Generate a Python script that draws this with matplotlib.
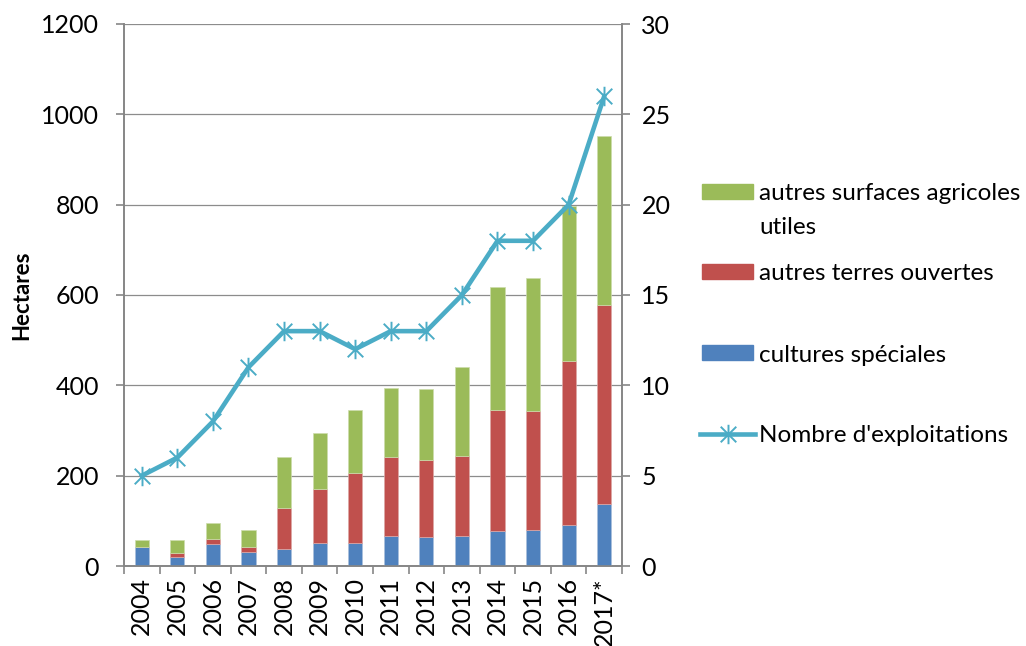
import matplotlib
matplotlib.use("Agg")
import matplotlib.pyplot as plt
import numpy as np
from matplotlib.patches import Patch
from matplotlib.lines import Line2D
from matplotlib.path import Path

plt.rcParams['font.family'] = ['Lato', 'DejaVu Sans']

years = ["2004", "2005", "2006", "2007", "2008", "2009", "2010", "2011",
         "2012", "2013", "2014", "2015", "2016", "2017*"]
cultures_speciales = [41, 19, 48, 31, 37, 51, 52, 66, 64, 67, 78, 79, 90, 137]
autres_terres_ouvertes = [2, 9, 11, 11, 91, 119, 154, 175, 171, 177, 267, 265, 364, 441]
autres_surfaces = [14, 30, 37, 38, 113, 124, 140, 153, 156, 197, 272, 293, 344, 375]
nombre_exploitations = [5, 6, 8, 11, 13, 13, 12, 13, 13, 15, 18, 18, 20, 26]

c_blue = "#4F81BD"
c_red = "#C0504D"
c_green = "#9BBB59"
c_line = "#4BACC6"
c_axis = "#868686"

# asterisk marker: vertical stroke plus an X
star = Path([(0, -1), (0, 1), (-0.8, -0.8), (0.8, 0.8), (-0.8, 0.8), (0.8, -0.8)],
            [Path.MOVETO, Path.LINETO, Path.MOVETO, Path.LINETO, Path.MOVETO, Path.LINETO])

fig = plt.figure(figsize=(10.26, 6.46), dpi=100)
ax = fig.add_axes([124/1026, 1-566/646, (622-124)/1026, (566-24)/646])
ax2 = ax.twinx()

x = np.arange(len(years))
w = 0.40
b1 = np.array(cultures_speciales)
b2 = np.array(autres_terres_ouvertes)
b3 = np.array(autres_surfaces)
ax.bar(x, b1, w, color=c_blue, edgecolor="#a9bfdc", linewidth=0.5, zorder=3)
ax.bar(x, b2, w, bottom=b1, color=c_red, edgecolor="#dda8a6", linewidth=0.5, zorder=3)
ax.bar(x, b3, w, bottom=b1+b2, color=c_green, edgecolor="#cddcac", linewidth=0.5, zorder=3)

ax.set_ylim(0, 1200)
ax.set_yticks(np.arange(0, 1201, 200))
ax.set_xlim(-0.5, len(years)-0.5)
ax.yaxis.grid(True, color="#8c8c8c", linewidth=0.9, zorder=0)
ax.set_axisbelow(True)

tfs = 18
ax.set_xticks(x)
ax.set_xticklabels(years, rotation=90, fontsize=tfs)
ax.set_xticks(np.arange(-0.5, len(years), 1.0), minor=True)
ax.tick_params(axis='x', which='major', length=0, pad=8)
ax.tick_params(axis='x', which='minor', length=6, width=1.2, color=c_axis, direction='out')
ax.tick_params(axis='y', which='major', length=6, width=1.2, color=c_axis, labelsize=tfs, pad=12)

ax2.plot(x, nombre_exploitations, color=c_line, linewidth=3.3, marker=star,
         markersize=14, markeredgewidth=1.4, markeredgecolor=c_line, zorder=5)
ax2.set_ylim(0, 30)
ax2.set_yticks(np.arange(0, 31, 5))
ax2.tick_params(axis='y', which='major', length=6, width=1.2, color=c_axis, labelsize=tfs, pad=8)

for a in (ax, ax2):
    for s in a.spines.values():
        s.set_color(c_axis)
        s.set_linewidth(1.2)
    a.spines['top'].set_visible(False)

ax.set_ylabel("Hectares", fontsize=16, fontweight='bold')
ax.yaxis.set_label_coords(-92/498, 0.5)
ax2.patch.set_visible(False)

fs = 17.5
fpx = fs * 100 / 72.0
common = dict(frameon=False, fontsize=fs, borderpad=0, borderaxespad=0,
              handlelength=51/fpx, handleheight=14/fpx, handletextpad=6/fpx, loc='center left')
entries = [
    (Patch(color=c_green), "autres surfaces agricoles", 194),
    (Patch(color=c_red), "autres terres ouvertes", 274),
    (Patch(color=c_blue), "cultures spéciales", 355),
]
for h, lab, ypx in entries:
    fig.legend([h], [lab], bbox_to_anchor=(702/1026, 1-ypx/646), **common)
line_h = Line2D([0], [0], color=c_line, linewidth=3.3, marker=star, markersize=14,
                markeredgewidth=1.4)
common2 = dict(common)
common2['handlelength'] = 55/fpx
common2['handletextpad'] = 4/fpx
fig.legend([line_h], ["Nombre d'exploitations"], bbox_to_anchor=(700/1026, 1-436/646), **common2)
fig.text(759/1026, 1-227/646, "utiles", fontsize=fs, va='center', ha='left')

fig.savefig("out.png", dpi=100)
